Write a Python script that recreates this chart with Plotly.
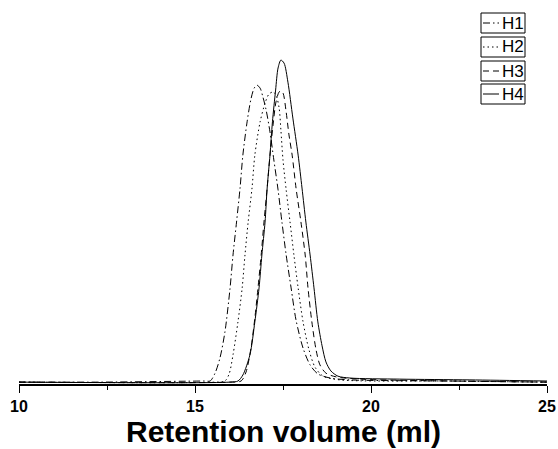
import plotly.graph_objects as go

# ---- data (retention volume in ml, normalized detector response) ----
h1_x = [10, 12.30, 15.28, 15.43, 15.57, 15.71, 15.85, 15.99, 16.08, 16.18, 16.28, 16.36, 16.48, 16.59,
        16.68, 16.76, 16.85, 16.93, 17.02, 17.13, 17.24, 17.36, 17.47, 17.59, 17.73, 17.87, 18.07,
        18.27, 18.49, 18.84, 19.40, 22.24, 25]
h1_y = [0.005, 0.005, 0.008, 0.008, 0.029, 0.070, 0.139, 0.251, 0.345, 0.433, 0.524, 0.612, 0.701, 0.762,
        0.791, 0.799, 0.791, 0.767, 0.733, 0.674, 0.599, 0.519, 0.433, 0.345, 0.257, 0.171, 0.096,
        0.051, 0.027, 0.016, 0.011, 0.008, 0.005]

h2_x = [10, 15.57, 15.85, 15.97, 16.08, 16.22, 16.34, 16.42, 16.51, 16.62, 16.70, 16.85, 16.99, 17.10,
        17.22, 17.30, 17.39, 17.44, 17.50, 17.59, 17.70, 17.81, 17.93, 18.07, 18.24, 18.41, 18.64,
        19.12, 22.24, 25]
h2_y = [0.005, 0.005, 0.008, 0.027, 0.078, 0.166, 0.257, 0.345, 0.433, 0.524, 0.612, 0.701, 0.751, 0.775,
        0.781, 0.773, 0.738, 0.679, 0.599, 0.519, 0.433, 0.345, 0.257, 0.166, 0.091, 0.045, 0.021,
        0.011, 0.008, 0.005]

h3_x = [10, 15.99, 16.31, 16.45, 16.59, 16.70, 16.79, 16.88, 16.96, 17.05, 17.13, 17.22, 17.30, 17.39,
        17.44, 17.50, 17.59, 17.67, 17.76, 17.87, 18.01, 18.13, 18.21, 18.32, 18.44, 18.55, 18.72,
        19.01, 19.69, 22.24, 25]
h3_y = [0.005, 0.005, 0.008, 0.032, 0.096, 0.176, 0.257, 0.345, 0.433, 0.524, 0.612, 0.695, 0.754, 0.781,
        0.783, 0.778, 0.727, 0.666, 0.612, 0.524, 0.433, 0.345, 0.257, 0.166, 0.091, 0.051, 0.029,
        0.019, 0.013, 0.008, 0.005]

h4_x = [10, 15.99, 16.22, 16.36, 16.56, 16.70, 16.82, 16.90, 16.99, 17.05, 17.13, 17.20, 17.29, 17.36,
        17.44, 17.53, 17.64, 17.78, 17.93, 18.04, 18.15, 18.27, 18.38, 18.49, 18.61, 18.72, 18.86,
        19.06, 19.40, 20.82, 22.81, 25]
h4_y = [0.005, 0.005, 0.008, 0.024, 0.078, 0.166, 0.257, 0.345, 0.433, 0.524, 0.612, 0.701, 0.786, 0.845,
        0.866, 0.858, 0.807, 0.711, 0.612, 0.524, 0.433, 0.345, 0.257, 0.166, 0.102, 0.059, 0.035,
        0.021, 0.016, 0.013, 0.011, 0.008]

series_names = ["H1", "H2", "H3", "H4"]
x_ticks = [10, 15, 20, 25]
x_title = "Retention volume (ml)"

# ---- styling ----
W, H = 558, 449
ML, MR, MT, MB = 19, 11, 10, 65
dashes = ["7px,3px,1.5px,3px", "1.5px,3px", "6px,4px", "solid"]
xs = [h1_x, h2_x, h3_x, h4_x]
ys = [h1_y, h2_y, h3_y, h4_y]

fig = go.Figure()
for name, x, y, d in zip(series_names, xs, ys, dashes):
    fig.add_trace(go.Scatter(x=x, y=y, mode="lines", name=name,
                             line=dict(color="black", width=1, dash=d, shape="spline", smoothing=0.8),
                             showlegend=False))

# legend drawn as individually boxed entries (as in the reference)
pw, ph = W - ML - MR, H - MT - MB
def px(xp):
    return (xp - ML) / pw
def py(yp):
    return (H - MB - yp) / ph

box_top = [13, 37, 61, 84]
shapes = []
annotations = []
for name, d, t in zip(series_names, dashes, box_top):
    shapes.append(dict(type="rect", xref="paper", yref="paper",
                       x0=px(481), x1=px(525), y0=py(t + 20), y1=py(t),
                       line=dict(color="black", width=1), fillcolor="white"))
    shapes.append(dict(type="line", xref="paper", yref="paper",
                       x0=px(483), x1=px(499), y0=py(t + 10), y1=py(t + 10),
                       line=dict(color="black", width=1, dash=d)))
    annotations.append(dict(text=name, xref="paper", yref="paper", x=px(500), y=py(t + 10),
                            xanchor="left", yanchor="middle", showarrow=False,
                            font=dict(family="Liberation Sans, Arial", size=17, color="black")))

# x-axis title placed as an annotation below the tick labels
annotations.append(dict(text=f"<b>{x_title}</b>", xref="paper", yref="paper",
                        x=px(283.5), y=py(449), xanchor="center", yanchor="bottom",
                        showarrow=False, borderpad=0,
                        font=dict(family="Liberation Sans, Arial", size=30, color="black")))

fig.update_layout(
    width=W, height=H,
    margin=dict(l=ML, r=MR, t=MT, b=MB, pad=0, autoexpand=False),
    paper_bgcolor="white", plot_bgcolor="white",
    shapes=shapes, annotations=annotations,
    xaxis=dict(range=[10, 25], tickvals=x_ticks, ticktext=[f"<b>{v}</b>" for v in x_ticks],
               automargin=False,
               showline=True, linecolor="black", linewidth=1.5, mirror=False,
               ticks="outside", ticklen=7, tickwidth=1, tickcolor="black",
               minor=dict(tickvals=[12.5, 17.5, 22.5], ticks="outside", ticklen=4, tickwidth=1,
                          tickcolor="black", showgrid=False),
               showgrid=False, zeroline=False,
               tickfont=dict(family="Liberation Sans, Arial", size=16, color="black")),
    yaxis=dict(range=[0, 1], visible=False, showgrid=False, zeroline=False),
)

fig.write_html("out.html")
